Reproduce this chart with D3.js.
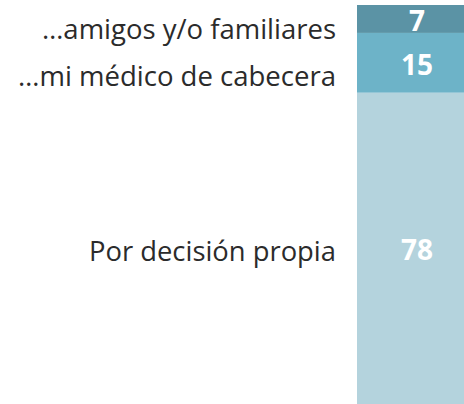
<!DOCTYPE html>
<html>
<head>
<meta charset="utf-8">
<script src="https://cdn.jsdelivr.net/npm/d3@7"></script>
<style>
  html, body { margin: 0; padding: 0; background: #fff; overflow: hidden; }
</style>
</head>
<body>
<div id="chart"></div>
<script>
// stacked single bar, top to bottom
const categories = ['…amigos y/o familiares', '…mi médico de cabecera', 'Por decisión propia'];
const values = [7, 15, 78];
const colors = ['#5b93a5', '#6db3c8', '#b4d3dd'];

const width = 464, height = 404;

const svg = d3.select('#chart')
    .append('svg')
    .attr('width', width)
    .attr('height', height)
    .style('display', 'block');

// cumulative stack
let acc = 0;
const stacked = values.map((v, i) => {
    const d = { name: categories[i], value: v, y0: acc, y1: acc + v, color: colors[i] };
    acc += v;
    return d;
});

const y = d3.scaleLinear().domain([0, 100]).range([5, 404]);
const x = d3.scaleBand().domain(['total']).range([357, 477]).padding(0);

// bar segments
svg.selectAll('rect.seg')
    .data(stacked)
    .enter()
    .append('rect')
    .attr('class', 'seg')
    .attr('x', x('total'))
    .attr('width', x.bandwidth())
    .attr('y', d => y(d.y0))
    .attr('height', d => y(d.y1) - y(d.y0))
    .attr('fill', d => d.color);

// value labels inside segments
svg.selectAll('text.val')
    .data(stacked)
    .enter()
    .append('text')
    .attr('class', 'val')
    .attr('x', x('total') + x.bandwidth() / 2)
    .attr('y', d => (y(d.y0) + y(d.y1)) / 2 + 12)
    .attr('text-anchor', 'middle')
    .attr('fill', '#fff')
    .attr('font-family', '"Open Sans", sans-serif')
    .attr('font-weight', 'bold')
    .attr('font-size', '28px')
    .text(d => d.value);

// category labels, nudged the way the original spreads them
const labelNudge = [20, 23.5, 13];
const labelWidth = [294, 318, 247];

svg.selectAll('text.cat')
    .data(stacked)
    .enter()
    .append('text')
    .attr('class', 'cat')
    .attr('x', 336)
    .attr('y', (d, i) => (y(d.y0) + y(d.y1)) / 2 + labelNudge[i])
    .attr('text-anchor', 'end')
    .attr('fill', '#2b2b2b')
    .attr('font-family', '"Open Sans", sans-serif')
    .attr('font-size', '28px')
    .attr('textLength', (d, i) => labelWidth[i])
    .attr('lengthAdjust', 'spacingAndGlyphs')
    .text(d => d.name);
</script>
</body>
</html>
